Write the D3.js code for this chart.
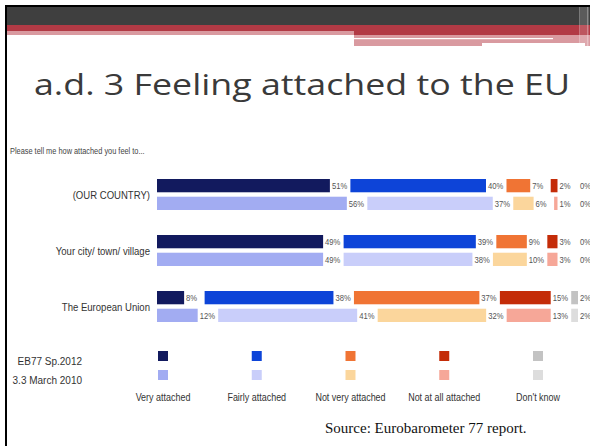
<!DOCTYPE html>
<html>
<head>
<meta charset="utf-8">
<script src="https://cdn.jsdelivr.net/npm/d3@7"></script>
<style>
  body { margin: 0; background: #fff; }
  svg { display: block; }
</style>
</head>
<body>
<div id="chart"></div>
<script>
const width = 590,
  height = 446;

const categories = ["(OUR COUNTRY)", "Your city/ town/ village", "The European Union"];
const answers = ["Very attached", "Fairly attached", "Not very attached", "Not at all attached", "Don't know"];
const waves = ["EB77 Sp.2012", "3.3 March 2010"];

// one row per category, one value per answer
const values2012 = [[51, 40, 7, 2, 0], [49, 39, 9, 3, 0], [8, 38, 37, 15, 2]];
const values2010 = [[56, 37, 6, 1, 0], [49, 38, 10, 3, 0], [12, 41, 32, 13, 2]];

const colors2012 = ["#121a5e", "#0d44d8", "#f07434", "#c42c08", "#c3c3c3"];
const colors2010 = ["#a2acf2", "#c9cefa", "#fbd69c", "#f6a798", "#dddddd"];

const svg = d3.select("#chart")
  .append("svg")
  .attr("width", width)
  .attr("height", height);

// slide header
const head = svg.append("g");
head.append("rect").attr("x", 5).attr("y", 5).attr("width", 585).attr("height", 2).attr("fill", "#000");
head.append("rect").attr("x", 5).attr("y", 5).attr("width", 2).attr("height", 441).attr("fill", "#000");
head.append("rect").attr("x", 7).attr("y", 7).attr("width", 583).attr("height", 18).attr("fill", "#3f3f3f");
head.append("rect").attr("x", 7).attr("y", 25).attr("width", 583).attr("height", 6).attr("fill", "#b23a45");
head.append("rect").attr("x", 7).attr("y", 31).attr("width", 347).attr("height", 4).attr("fill", "#d99aa0");
head.append("rect").attr("x", 354).attr("y", 31).attr("width", 236).attr("height", 4).attr("fill", "#b23a45");
head.append("rect").attr("x", 354).attr("y", 35).attr("width", 236).attr("height", 11).attr("fill", "#d99aa0");
head.append("rect").attr("x", 354).attr("y", 38).attr("width", 199).attr("height", 1.2).attr("fill", "#fff");
head.append("rect").attr("x", 482).attr("y", 43).attr("width", 103).attr("height", 3).attr("fill", "#fff");
head.append("rect").attr("x", 579).attr("y", 7).attr("width", 1.5).attr("height", 39).attr("fill", "#fff").attr("opacity", 0.3);
head.append("rect").attr("x", 581).attr("y", 7).attr("width", 6).attr("height", 39).attr("fill", "#fff").attr("opacity", 0.15);
head.append("rect").attr("x", 587).attr("y", 7).attr("width", 1.5).attr("height", 39).attr("fill", "#fff").attr("opacity", 0.4);

svg.append("text")
  .attr("x", 34)
  .attr("y", 95)
  .attr("textLength", 536)
  .attr("lengthAdjust", "spacingAndGlyphs")
  .style("font-family", "'Open Sans', sans-serif")
  .style("font-size", "29px")
  .attr("fill", "#3a3a3a")
  .text("a.d. 3 Feeling attached to the EU");

// squeezed sans text like the pasted picture
function label(g, x, y, str, size, anchor, fill) {
  return g.append("text")
    .attr("transform", `translate(${x},${y}) scale(0.87,1)`)
    .attr("text-anchor", anchor || "start")
    .style("font-family", "'Liberation Sans', Arial, sans-serif")
    .style("font-size", size + "px")
    .attr("fill", fill || "#333")
    .text(str);
}

const chart = svg.append("g");

label(chart, 10, 154, "Please tell me how attached you feel to...", 8.5, "start", "#444");

const x = d3.scaleLinear().domain([0, 100]).range([0, 339]);
const gap = 20.5;
const x0 = 157;

const y = d3.scaleBand().domain(categories).range([174, 342]);
const sub = d3.scaleBand().domain(waves).range([0, 31]).paddingInner(0.25);

const rows = [];
categories.forEach((c, i) => {
  [values2012, values2010].forEach((vals, w) => {
    let pos = x0;
    vals[i].forEach((v, k) => {
      rows.push({
        cat: c, wave: waves[w], answer: answers[k], value: v,
        x: pos, color: w === 0 ? colors2012[k] : colors2010[k]
      });
      pos += x(v) + gap;
    });
  });
});

chart.append("g")
  .selectAll("rect")
  .data(rows.filter(d => d.value > 0))
  .join("rect")
  .attr("x", d => d.x)
  .attr("y", d => y(d.cat) + 5 + sub(d.wave))
  .attr("width", d => x(d.value))
  .attr("height", sub.bandwidth())
  .attr("fill", d => d.color);

const pctG = chart.append("g");
rows.forEach(d => {
  label(pctG, d.x + x(d.value) + 2, y(d.cat) + 5 + sub(d.wave) + sub.bandwidth() / 2 + 3.2,
    d.value + "%", 8.8, "start", "#555");
});

categories.forEach(c => {
  label(chart, 150, y(c) + 5 + 19.8, c, 11, "end");
});

// legend
const lx = d3.scalePoint().domain(answers).range([163, 538]);
const ly = d3.scaleBand().domain(waves).range([351, 380]).paddingInner(0.474);
const leg = chart.append("g");
waves.forEach((w, wi) => {
  label(leg, 82, ly(w) + 13.5, w, 11.5, "end");
  answers.forEach((a, k) => {
    leg.append("rect")
      .attr("x", lx(a) - 5)
      .attr("y", ly(w))
      .attr("width", ly.bandwidth())
      .attr("height", ly.bandwidth())
      .attr("fill", wi === 0 ? colors2012[k] : colors2010[k]);
  });
});
answers.forEach(a => {
  label(leg, lx(a), 401, a, 10.3, "middle");
});

svg.append("text")
  .attr("x", 325)
  .attr("y", 433)
  .style("font-family", "'Liberation Serif', 'Times New Roman', serif")
  .style("font-size", "15px")
  .attr("fill", "#111")
  .text("Source: Eurobarometer 77 report.");
</script>
</body>
</html>
